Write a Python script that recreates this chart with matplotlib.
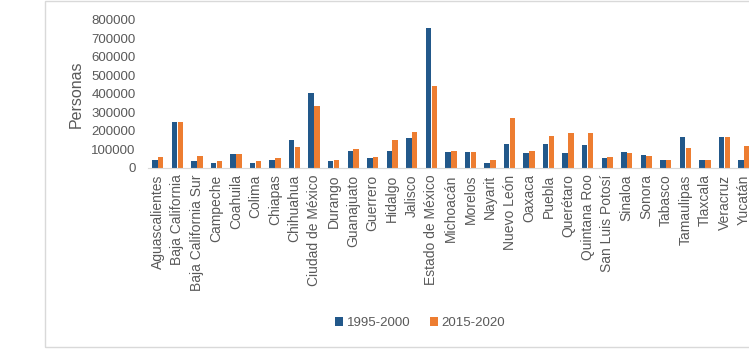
import matplotlib.pyplot as plt
from matplotlib.patches import Rectangle
import numpy as np

# data (persons per state)
estados = ['Aguascalientes', 'Baja California', 'Baja California Sur', 'Campeche',
           'Coahuila', 'Colima', 'Chiapas', 'Chihuahua', 'Ciudad de México', 'Durango',
           'Guanajuato', 'Guerrero', 'Hidalgo', 'Jalisco', 'Estado de México',
           'Michoacán', 'Morelos', 'Nayarit', 'Nuevo León', 'Oaxaca', 'Puebla',
           'Querétaro', 'Quintana Roo', 'San Luis Potosí', 'Sinaloa', 'Sonora',
           'Tabasco', 'Tamaulipas', 'Tlaxcala', 'Veracruz', 'Yucatán']
p1995_2000 = [42000, 245000, 33000, 27000, 71000, 27000, 42000, 150000, 402000, 33000,
              92000, 49000, 92000, 158000, 757000, 85000, 85000, 27000, 129000, 76000,
              129000, 76000, 120000, 49000, 85000, 69000, 40000, 165000, 42000, 165000,
              42000]
p2015_2020 = [56000, 245000, 63000, 34000, 71000, 34000, 49000, 109000, 332000, 42000,
              98000, 56000, 150000, 194000, 440000, 92000, 83000, 42000, 266000, 92000,
              172000, 185000, 185000, 56000, 76000, 63000, 40000, 107000, 42000, 165000,
              116000]

azul = '#22588a'
naranja = '#ED7D31'
gris = '#595959'

plt.rcParams['font.family'] = ['Liberation Sans', 'DejaVu Sans']

fig = plt.figure(figsize=(7.49, 3.51), dpi=100)

# chart area border (cut on the right like the reference)
fig.patches.append(Rectangle((45 / 749, 4 / 351), 1.0, 346 / 351, transform=fig.transFigure,
                             fill=False, edgecolor='#d9d9d9', linewidth=1))

# axes stretches past the right edge so the last state is clipped
ax = fig.add_axes([148 / 749, (351 - 167.5) / 351, 625.3 / 749, 147.5 / 351])

x = np.arange(len(estados))
w = 0.28
ax.bar(x - 0.15, p1995_2000, width=w, color=azul, label='1995-2000')
ax.bar(x + 0.15, p2015_2020, width=w, color=naranja, label='2015-2020')

ax.set_xlim(-0.5, len(estados) + 0.5)
ax.set_ylim(0, 800000)
ax.set_yticks(np.arange(0, 800001, 100000))
ax.set_xticks(x)
ax.set_xticklabels(estados, rotation=90, fontsize=10, color=gris)
ax.tick_params(axis='y', length=0, pad=9, labelsize=9.5, labelcolor=gris)
ax.tick_params(axis='x', length=0, pad=5)
for s in ['top', 'right', 'left']:
    ax.spines[s].set_visible(False)
ax.spines['bottom'].set_color('#d9d9d9')
ax.set_ylabel('Personas', fontsize=11.5, color=gris, labelpad=5)

fig.legend(loc='center', bbox_to_anchor=(420 / 749, 1 - 323 / 351), ncol=2, frameon=False,
           fontsize=9.5, labelcolor=gris, handlelength=0.6, handleheight=0.6,
           handletextpad=0.3, columnspacing=1.5)

fig.savefig('out.png', dpi=100)
